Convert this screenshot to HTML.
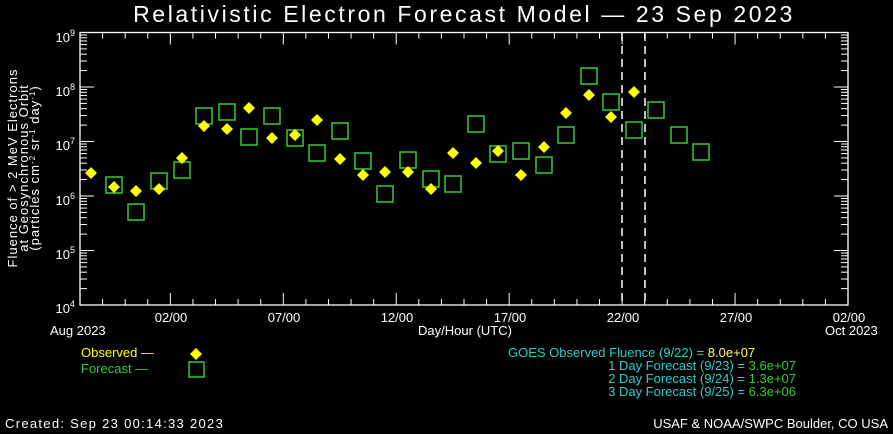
<!DOCTYPE html>
<html><head><style>
html,body{margin:0;padding:0;background:#000;}
svg{display:block;}
text{font-family:"Liberation Sans",sans-serif;}
</style></head><body>
<svg width="893" height="434" xmlns="http://www.w3.org/2000/svg">
<rect width="893" height="434" fill="#000"/>
<text x="464" y="22" fill="#fff" font-size="23" text-anchor="middle" letter-spacing="2.6">Relativistic Electron Forecast Model — 23 Sep 2023</text>
<g id="axes" stroke="#fff" stroke-width="1.3" fill="none">
<rect x="80" y="32.5" width="768" height="272.5"/>
</g>
<g stroke="#fff" stroke-width="1" id="ticks"></g>
<g stroke="#fff" stroke-width="1.5" stroke-dasharray="8,5">
<line x1="622" y1="33" x2="622" y2="305"/>
<line x1="645" y1="33" x2="645" y2="305"/>
</g>
<g id="sq" fill="none" stroke="#33cc33" stroke-width="1.5"></g>
<g id="dm" fill="#ffff00"></g>
<g fill="#fff" font-size="13">
<text x="75" y="42" text-anchor="end">10<tspan dy="-6" font-size="9">9</tspan></text>
<text x="75" y="96" text-anchor="end">10<tspan dy="-6" font-size="9">8</tspan></text>
<text x="75" y="150" text-anchor="end">10<tspan dy="-6" font-size="9">7</tspan></text>
<text x="75" y="205" text-anchor="end">10<tspan dy="-6" font-size="9">6</tspan></text>
<text x="75" y="259" text-anchor="end">10<tspan dy="-6" font-size="9">5</tspan></text>
<text x="75" y="313" text-anchor="end">10<tspan dy="-6" font-size="9">4</tspan></text>
<text x="171" y="322" text-anchor="middle">02/00</text>
<text x="284" y="322" text-anchor="middle">07/00</text>
<text x="397" y="322" text-anchor="middle">12/00</text>
<text x="510" y="322" text-anchor="middle">17/00</text>
<text x="623" y="322" text-anchor="middle">22/00</text>
<text x="736" y="322" text-anchor="middle">27/00</text>
<text x="849" y="322" text-anchor="middle">02/00</text>
<text x="50" y="335">Aug 2023</text>
<text x="825" y="335">Oct 2023</text>
<text x="465" y="335" text-anchor="middle">Day/Hour (UTC)</text>
<text x="5" y="428" letter-spacing="1.3">Created: Sep 23 00:14:33 2023</text>
<text x="888" y="428" text-anchor="end">USAF &amp; NOAA/SWPC Boulder, CO USA</text>
<g transform="translate(17,168) rotate(-90)" text-anchor="middle" font-size="13" letter-spacing="1">
<text x="0" y="0">Fluence of &gt; 2 MeV Electrons</text>
<text x="0" y="11">at Geosynchronous Orbit</text>
<text x="0" y="22">(particles cm<tspan dy="-4" font-size="8">-2</tspan><tspan dy="4"> sr</tspan><tspan dy="-4" font-size="8">-1</tspan><tspan dy="4"> day</tspan><tspan dy="-4" font-size="8">-1</tspan><tspan dy="4">)</tspan></text>
</g>
</g>
<g font-size="13">
<text x="81" y="357" fill="#ffff00">Observed —</text>
<text x="81" y="373" fill="#33cc33">Forecast —</text>
<polygon points="196,348 202,354 196,360 190,354" fill="#ffff00"/>
<rect x="189" y="362" width="15" height="15" fill="none" stroke="#33cc33" stroke-width="1.5"/>
<text x="508" y="357" fill="#33cccc">GOES Observed Fluence (9/22) = <tspan fill="#ffff66">8.0e+07</tspan></text>
<text x="796" y="370" fill="#33cccc" text-anchor="end">1 Day Forecast (9/23) = <tspan fill="#33cc33">3.6e+07</tspan></text>
<text x="796" y="383" fill="#33cccc" text-anchor="end">2 Day Forecast (9/24) = <tspan fill="#33cc33">1.3e+07</tspan></text>
<text x="796" y="396" fill="#33cccc" text-anchor="end">3 Day Forecast (9/25) = <tspan fill="#33cc33">6.3e+06</tspan></text>
</g>
<script>
(function(){
var ns="http://www.w3.org/2000/svg";
function el(p,t,a){var e=document.createElementNS(ns,t);for(var k in a)e.setAttribute(k,a[k]);p.appendChild(e);}
var tk=document.getElementById("ticks");
var yt=32.5,yb=305,dec=(yb-yt)/5;
for(var d=0;d<5;d++){for(var m=1;m<=10;m++){var y=yb-d*dec-Math.log10(m)*dec;var L=(m==1||m==10)?14:7;
el(tk,"line",{x1:80,y1:y,x2:80+L,y2:y});el(tk,"line",{x1:848,y1:y,x2:848-L,y2:y});}}
var dx=768/34;
for(var i=1;i<34;i++){var x=80+i*dx;var L=((i-4)%5==0)?12:6;
el(tk,"line",{x1:x,y1:yb,x2:x,y2:yb-L});el(tk,"line",{x1:x,y1:yt,x2:x,y2:yt+L});}
var dm=[[91,173],[114,187],[136,191],[159,189],[182,158],[204,126],[227,129],[249,108],[272,138],[295,135],[317,120],[340,159],[363,175],[385,172],[408,172],[431,189],[453,153],[476,163],[498,151],[521,175],[544,147],[566,113],[589,95],[611,117],[634,92]];
var sq=[[114,185],[136,212],[159,181],[182,170],[204,116],[227,112],[249,137],[272,116],[295,138],[317,153],[340,131],[363,161],[385,194],[408,160],[431,179],[453,184],[476,124],[498,154],[521,151],[544,165],[566,135],[589,76],[611,102],[634,130],[656,110],[679,135],[701,152]];
var g=document.getElementById("sq");sq.forEach(function(p){el(g,"rect",{x:p[0]-8,y:p[1]-8,width:16,height:16});});
var h=document.getElementById("dm");dm.forEach(function(p){var x=p[0],y=p[1];el(h,"polygon",{points:(x)+","+(y-6)+" "+(x+6)+","+y+" "+x+","+(y+6)+" "+(x-6)+","+y});});
})();
</script>
</svg>
</body></html>
